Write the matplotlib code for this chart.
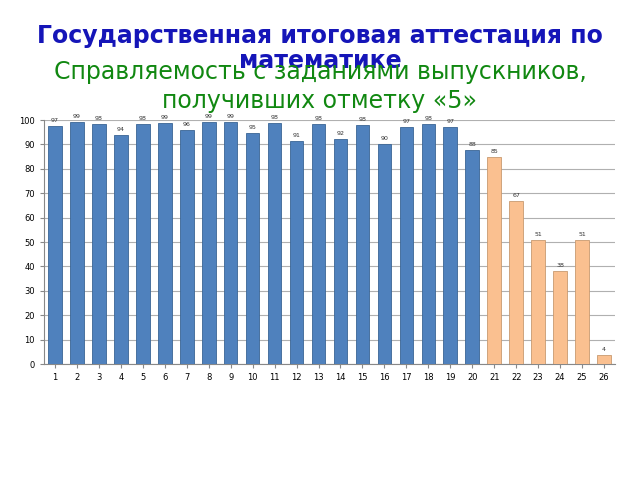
import matplotlib
matplotlib.use("Agg")
import matplotlib.pyplot as plt

tasks = [str(i) for i in range(1, 27)]
values = [97, 99, 98, 94, 98, 99, 96, 99, 99, 95, 98, 91, 98, 92, 98, 90, 97, 98, 97, 88, 85, 67, 51, 38, 51, 4]
heights = [97.5, 99.3, 98.3, 94, 98.5, 98.6, 95.8, 99.1, 99.1, 94.7, 98.6, 91.4, 98.2, 92.3, 97.9, 90, 97.2, 98.2, 97, 87.8, 85, 66.9, 50.9, 38.1, 50.9, 3.6]
labels = [str(v) for v in values]

fig = plt.figure(figsize=(6.4, 4.8), dpi=100)
ax = fig.add_axes([44/640, 1-364/480, (615-44)/640, (364-120)/480])
colors = ['#4f81bd']*20 + ['#fac090']*6
edges = ['#3a6595']*20 + ['#c89a70']*6
x = list(range(len(tasks)))
ax.bar(x, heights, width=0.62, color=colors, edgecolor=edges, linewidth=0.6, zorder=3)
for xi, h, l in zip(x, heights, labels):
    ax.text(xi, h + 1.2, l, ha='center', va='bottom', fontsize=4.5, color='#333333')
ax.set_xlim(-0.5, 25.5)
ax.set_ylim(0, 100)
ax.set_yticks(range(0, 101, 10))
ax.set_xticks(x)
ax.set_xticklabels(tasks)
ax.tick_params(labelsize=6, length=3, color='#888888')
ax.grid(axis='y', color='#b0b0b0', linewidth=0.8, zorder=0)
for s in ['top', 'right']:
    ax.spines[s].set_visible(False)
ax.spines['left'].set_color('#888888')
ax.spines['bottom'].set_color('#888888')

fig.text(0.5, 1-24/480, "Государственная итоговая аттестация по\nматематике", ha='center', va='top',
         fontsize=17, fontweight='bold', color='#1515b8', linespacing=1.05)
fig.text(0.5, 1-60/480, "Справляемость с заданиями выпускников,\nполучивших отметку «5»", ha='center', va='top',
         fontsize=17, color='#118811', linespacing=1.25)
fig.savefig("out.png", dpi=100)
